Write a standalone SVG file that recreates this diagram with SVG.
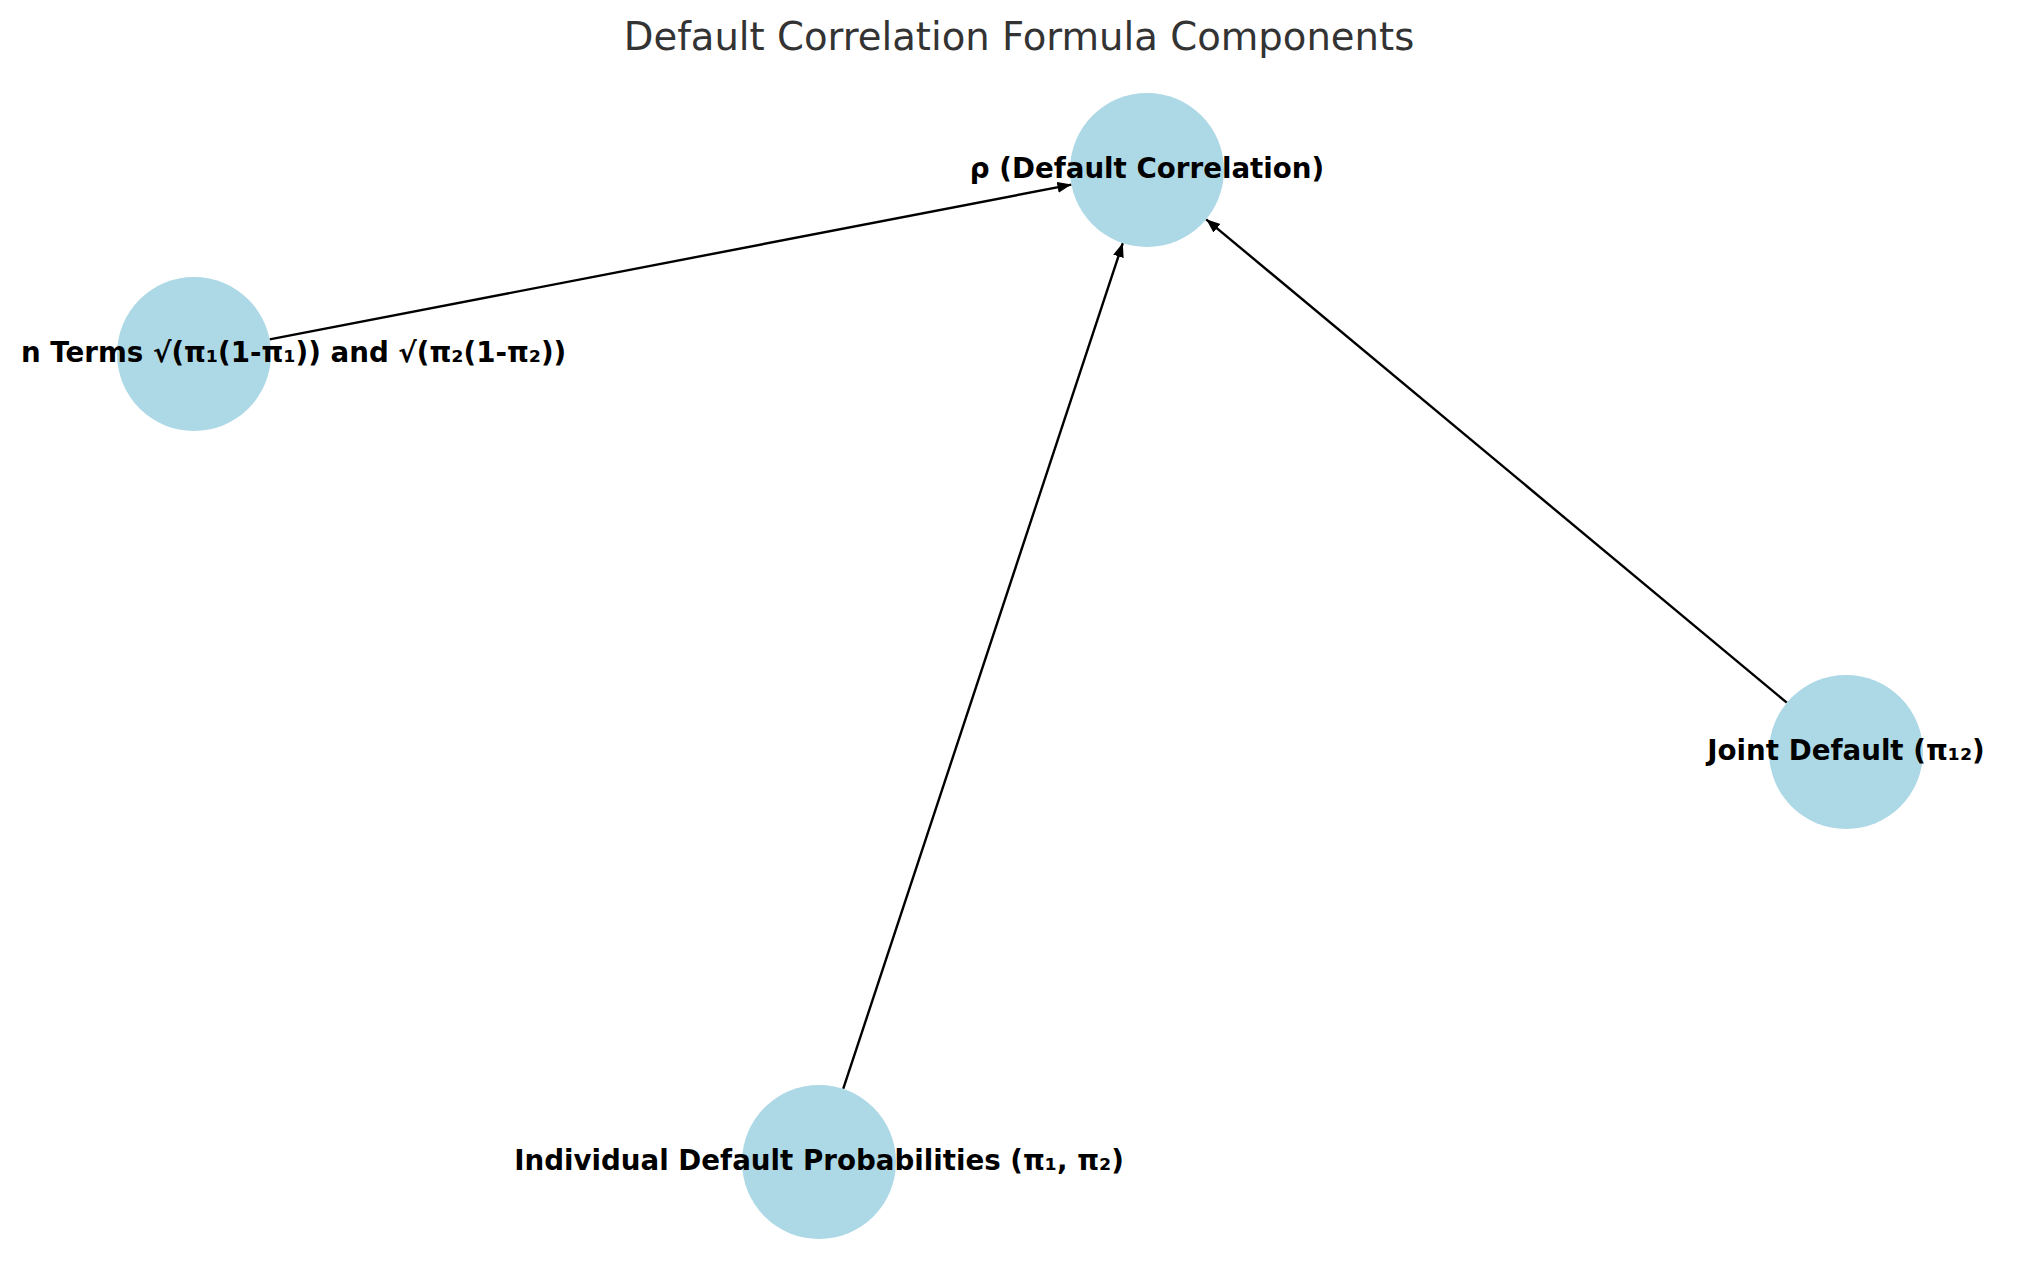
<svg xmlns="http://www.w3.org/2000/svg" width="2039" height="1286" viewBox="0 0 2039 1286">
  <style>
    .node { fill: #ADD8E6; }
    .label { font-family: "DejaVu Sans", "Liberation Sans", sans-serif; font-weight: bold; font-size: 27.7px; fill: #000; }
    .title { font-family: "DejaVu Sans", "Liberation Sans", sans-serif; font-size: 38.6px; fill: #333333; }
    .edge { stroke: #000; stroke-width: 2.4; fill: none; }
  </style>
  <defs>
    <marker id="arrow" markerUnits="userSpaceOnUse" markerWidth="16" markerHeight="12" refX="14" refY="5.5" orient="auto">
      <path d="M0,0 L14,5.5 L0,11 Z" fill="#000"/>
    </marker>
  </defs>
  <rect width="2039" height="1286" fill="#ffffff"/>
  <text class="title" x="1019" y="49.5" text-anchor="middle">Default Correlation Formula Components</text>
  <g id="edges">
    <line class="edge" x1="269.6" y1="339.4" x2="1071.4" y2="184.6" marker-end="url(#arrow)"/>
    <line class="edge" x1="843.2" y1="1088.9" x2="1122.8" y2="243.1" marker-end="url(#arrow)"/>
    <line class="edge" x1="1786.8" y1="702.7" x2="1206.2" y2="219.3" marker-end="url(#arrow)"/>
  </g>
  <g id="node-rho">
    <circle class="node" cx="1147" cy="170" r="77"/>
    <text class="label" x="1147" y="178" text-anchor="middle">ρ (Default Correlation)</text>
  </g>
  <g id="node-terms">
    <circle class="node" cx="194" cy="354" r="77"/>
    <text class="label" x="21" y="362">n Terms √(π₁(1-π₁)) and √(π₂(1-π₂))</text>
  </g>
  <g id="node-joint">
    <circle class="node" cx="1846" cy="752" r="77"/>
    <text class="label" x="1846" y="760" text-anchor="middle">Joint Default (π₁₂)</text>
  </g>
  <g id="node-individual">
    <circle class="node" cx="819" cy="1162" r="77"/>
    <text class="label" x="819" y="1170" text-anchor="middle">Individual Default Probabilities (π₁, π₂)</text>
  </g>
</svg>
